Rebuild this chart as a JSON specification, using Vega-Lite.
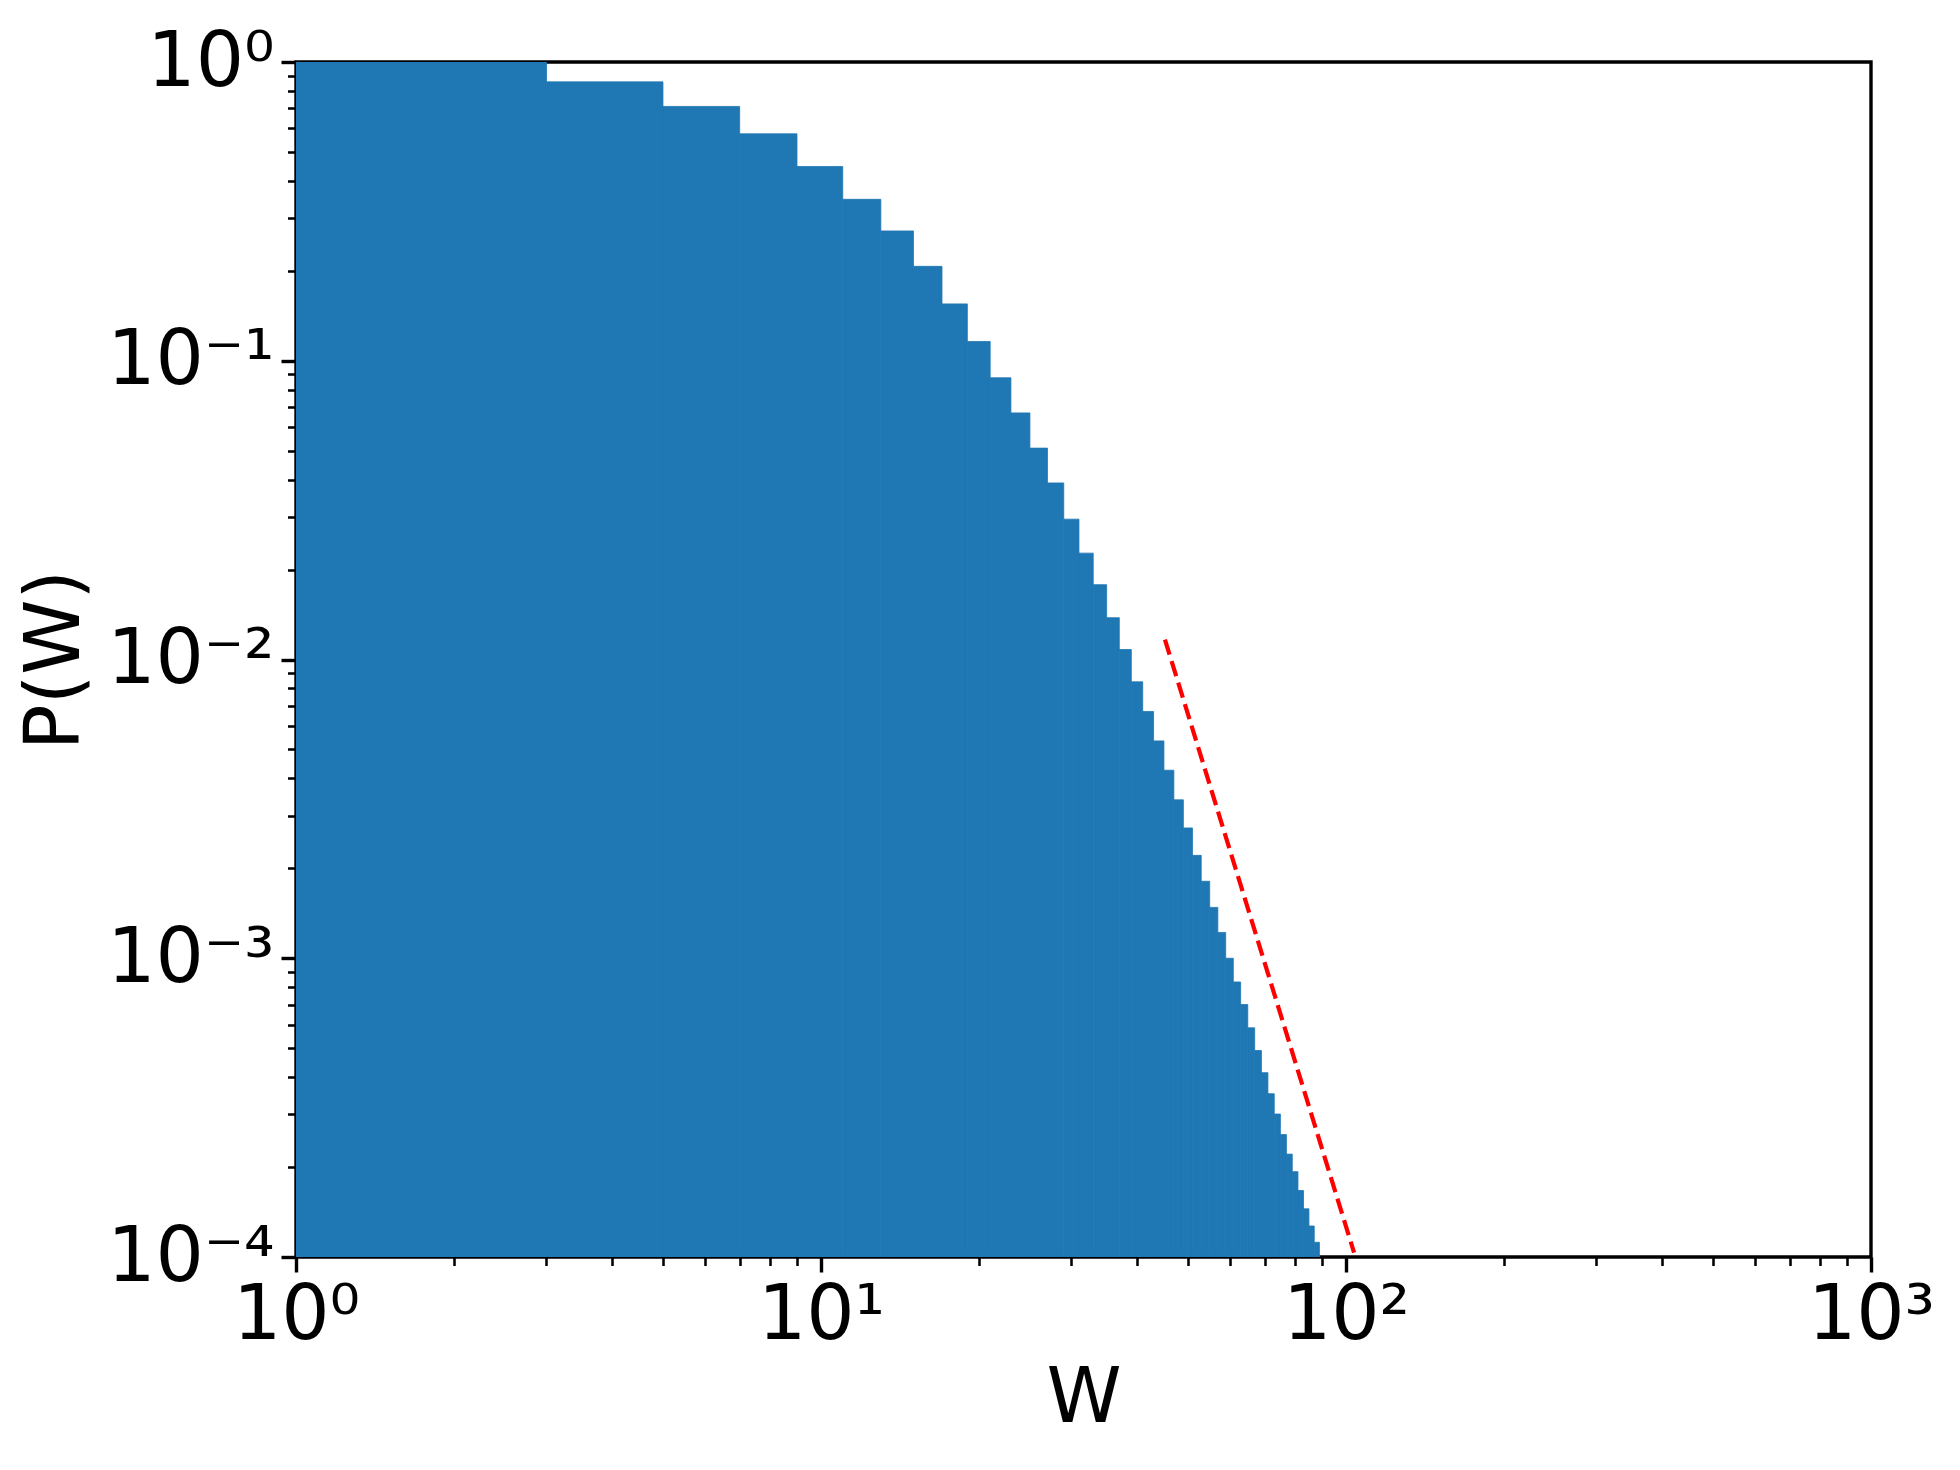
{
  "$schema": "https://vega.github.io/schema/vega-lite/v6.json",
  "width": 1575,
  "height": 1195,
  "autosize": {"type": "none"},
  "padding": {"left": 296, "top": 62, "right": 89, "bottom": 212},
  "background": "white",
  "config": {
    "view": {"stroke": "black", "strokeWidth": 3.4},
    "font": "DejaVu Sans",
    "axis": {
      "labelFont": "DejaVu Sans",
      "titleFont": "DejaVu Sans",
      "labelColor": "black",
      "titleColor": "black",
      "tickColor": "black",
      "domain": false,
      "grid": false,
      "titleFontWeight": "normal"
    }
  },
  "datasets": {
    "hist": [
      {"lo": 1, "hi": 3, "p": 1.0},
      {"lo": 3, "hi": 5, "p": 0.858},
      {"lo": 5, "hi": 7, "p": 0.710},
      {"lo": 7, "hi": 9, "p": 0.575},
      {"lo": 9, "hi": 11, "p": 0.447},
      {"lo": 11, "hi": 13, "p": 0.347},
      {"lo": 13, "hi": 15, "p": 0.272},
      {"lo": 15, "hi": 17, "p": 0.207},
      {"lo": 17, "hi": 19, "p": 0.155},
      {"lo": 19, "hi": 21, "p": 0.116},
      {"lo": 21, "hi": 23, "p": 0.0877},
      {"lo": 23, "hi": 25, "p": 0.0669},
      {"lo": 25, "hi": 27, "p": 0.0510},
      {"lo": 27, "hi": 29, "p": 0.0390},
      {"lo": 29, "hi": 31, "p": 0.0295},
      {"lo": 31, "hi": 33, "p": 0.0227},
      {"lo": 33, "hi": 35, "p": 0.0178},
      {"lo": 35, "hi": 37, "p": 0.0138},
      {"lo": 37, "hi": 39, "p": 0.0108},
      {"lo": 39, "hi": 41, "p": 0.00842},
      {"lo": 41, "hi": 43, "p": 0.0067},
      {"lo": 43, "hi": 45, "p": 0.00534},
      {"lo": 45, "hi": 47, "p": 0.00426},
      {"lo": 47, "hi": 49, "p": 0.00339},
      {"lo": 49, "hi": 51, "p": 0.00273},
      {"lo": 51, "hi": 53, "p": 0.00221},
      {"lo": 53, "hi": 55, "p": 0.00181},
      {"lo": 55, "hi": 57, "p": 0.00148},
      {"lo": 57, "hi": 59, "p": 0.00122},
      {"lo": 59, "hi": 61, "p": 0.00100},
      {"lo": 61, "hi": 63, "p": 0.000833},
      {"lo": 63, "hi": 65, "p": 0.000700},
      {"lo": 65, "hi": 67, "p": 0.000585},
      {"lo": 67, "hi": 69, "p": 0.000491},
      {"lo": 69, "hi": 71, "p": 0.000414},
      {"lo": 71, "hi": 73, "p": 0.000352},
      {"lo": 73, "hi": 75, "p": 0.000301},
      {"lo": 75, "hi": 77, "p": 0.000257},
      {"lo": 77, "hi": 79, "p": 0.000221},
      {"lo": 79, "hi": 81, "p": 0.000193},
      {"lo": 81, "hi": 83, "p": 0.000167},
      {"lo": 83, "hi": 85, "p": 0.000145},
      {"lo": 85, "hi": 87, "p": 0.000127},
      {"lo": 87, "hi": 89, "p": 0.000112}
    ],
    "fit": [
      {"W": 45.2, "P": 0.01166},
      {"W": 103.6, "P": 0.0001035}
    ]
  },
  "resolve": {"axis": {"x": "independent", "y": "independent"}},
  "layer": [
    {
      "data": {"name": "hist"},
      "mark": {"type": "rect", "fill": "#1f77b4", "stroke": "#1f77b4", "strokeWidth": 0.8, "clip": true},
      "encoding": {
        "x": {
          "field": "lo", "type": "quantitative",
          "scale": {"type": "log", "domain": [1, 1000], "nice": false},
          "axis": {
            "orient": "bottom",
            "values": [2,3,4,5,6,7,8,9,20,30,40,50,60,70,80,90,200,300,400,500,600,700,800,900],
            "labels": false, "title": null, "tickSize": 8.5, "tickWidth": 2.55
          }
        },
        "x2": {"field": "hi"},
        "y": {
          "field": "p", "type": "quantitative",
          "scale": {"type": "log", "domain": [0.0001, 1], "nice": false},
          "axis": {
            "orient": "left",
            "values": [0.0002,0.0003,0.0004,0.0005,0.0006,0.0007,0.0008,0.0009,0.002,0.003,0.004,0.005,0.006,0.007,0.008,0.009,0.02,0.03,0.04,0.05,0.06,0.07,0.08,0.09,0.2,0.3,0.4,0.5,0.6,0.7,0.8,0.9],
            "labels": false, "title": null, "tickSize": 8.5, "tickWidth": 2.55
          }
        },
        "y2": {"datum": 0.0001}
      }
    },
    {
      "data": {"name": "fit"},
      "mark": {"type": "line", "color": "#ff0000", "strokeWidth": 4.2, "strokeDash": [15.7, 6.8], "clip": true},
      "encoding": {
        "x": {
          "field": "W", "type": "quantitative",
          "scale": {"type": "log", "domain": [1, 1000], "nice": false},
          "axis": {
            "orient": "bottom",
            "values": [1, 10, 100, 1000],
            "labelExpr": "'10' + ['⁰','¹','²','³'][round(log(datum.value)/LN10)]",
            "labelFontSize": 76,
            "labelPadding": 6,
            "labelFlush": false,
            "labelOverlap": false,
            "tickSize": 15,
            "tickWidth": 3.4,
            "title": "W",
            "titleFontSize": 76,
            "titlePadding": 8
          }
        },
        "y": {
          "field": "P", "type": "quantitative",
          "scale": {"type": "log", "domain": [0.0001, 1], "nice": false},
          "axis": {
            "orient": "left",
            "values": [0.0001, 0.001, 0.01, 0.1, 1],
            "labelExpr": "'10' + ['⁻⁴','⁻³','⁻²','⁻¹','⁰'][round(log(datum.value)/LN10)+4]",
            "labelFontSize": 76,
            "labelPadding": 7,
            "labelFlush": false,
            "labelOverlap": false,
            "tickSize": 15,
            "tickWidth": 3.4,
            "title": "P(W)",
            "titleFontSize": 76,
            "titlePadding": 12
          }
        }
      }
    }
  ]
}
